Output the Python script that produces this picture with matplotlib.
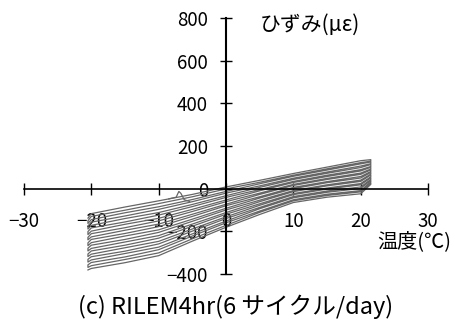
import numpy as np
import matplotlib
matplotlib.use('Agg')
import matplotlib.pyplot as plt

plt.rcParams['font.family'] = ['Noto Sans CJK JP', 'DejaVu Sans']

temp = [-20.5, -20, -15, -10, -5, 0, 5, 10, 15, 20, 21.5]

# strain (micro) at each temperature, one value per cycle branch, top to bottom
e_m20_5 = [-138, -150, -163, -177, -189, -201, -215, -228, -240, -254, -267, -279, -292, -306, -318, -331, -344, -357, -369, -381]
e_m20 = [-117, -130, -145, -157, -172, -184, -199, -211, -226, -238, -253, -265, -280, -292, -307, -319, -334, -346, -361, -374]
e_m15 = [-86, -101, -113, -128, -140, -156, -167, -183, -195, -210, -222, -238, -250, -265, -277, -293, -304, -320, -332, -347]
e_m10 = [-57, -70, -85, -97, -112, -124, -139, -151, -166, -178, -193, -205, -220, -232, -247, -259, -274, -286, -301, -314]
e_m5 = [-27, -38, -51, -61, -74, -84, -97, -107, -120, -130, -143, -153, -166, -176, -189, -199, -212, -222, -235, -246]
e_0 = [8, -1, -13, -21, -33, -41, -53, -61, -73, -80, -92, -100, -112, -120, -132, -140, -152, -160, -172, -181]
e_5 = [39, 30, 23, 13, 6, -4, -10, -21, -27, -38, -44, -54, -61, -71, -78, -88, -94, -105, -111, -121]
e_10 = [71, 63, 58, 49, 43, 34, 29, 20, 15, 6, 0, -9, -14, -23, -28, -37, -43, -52, -57, -65]
e_15 = [101, 93, 87, 78, 72, 63, 57, 48, 43, 33, 28, 18, 13, 3, -2, -11, -17, -26, -32, -40]
e_20 = [131, 122, 116, 106, 99, 89, 83, 73, 67, 57, 50, 40, 34, 24, 18, 8, 1, -9, -15, -24]
e_21_5 = [136, 129, 125, 117, 113, 104, 100, 92, 88, 80, 76, 68, 64, 55, 51, 43, 39, 31, 27, 20]

# jump at start of record near -7 deg
spike_temp = [-8.5, -7.4, -7.0, -6.7, -6.2, -5.4]
spike_strain = [-48, -40, -13, -22, -52, -60]

xticks = [-30, -20, -10, 0, 10, 20, 30]
yticks = [-400, -200, 0, 200, 400, 600, 800]

cols = [e_m20_5, e_m20, e_m15, e_m10, e_m5, e_0, e_5, e_10, e_15, e_20, e_21_5]

# join branches back and forth like the measured loops
xs, ys = [], []
for i in range(len(e_0)):
    vals = [c[i] for c in cols]
    t = list(temp)
    if i % 2 == 1:
        vals = vals[::-1]
        t = t[::-1]
    xs += t
    ys += vals

fig = plt.figure(figsize=(4.55, 3.23), dpi=100)
ax = fig.add_axes([0.0527, 0.1517, 0.888, 0.7926])

ax.plot(xs, ys, color='#666666', lw=0.9)
ax.plot(spike_temp, spike_strain, color='#666666', lw=0.9)

ax.set_xlim(-30, 30)
ax.set_ylim(-400, 800)
ax.set_xticks(xticks)
ax.set_yticks(yticks)

ax.spines['left'].set_position('zero')
ax.spines['bottom'].set_position('zero')
ax.spines['top'].set_visible(False)
ax.spines['right'].set_visible(False)
ax.spines['left'].set_linewidth(1.5)
ax.spines['bottom'].set_linewidth(1.2)

ax.tick_params(axis='x', direction='inout', length=8, width=1, labelsize=13.5, pad=12)
ax.tick_params(axis='y', direction='inout', length=8, width=1, labelsize=13.5, pad=9)

ax.text(5, 768, 'ひずみ(με)', fontsize=15, va='center', ha='left')
ax.text(22.4, -250, '温度(℃)', fontsize=14.5, va='center', ha='left')
fig.text(0.517, 0.05, '(c) RILEM4hr(6 サイクル/day)', fontsize=17, ha='center', va='center')

fig.savefig('out.png', dpi=100)
